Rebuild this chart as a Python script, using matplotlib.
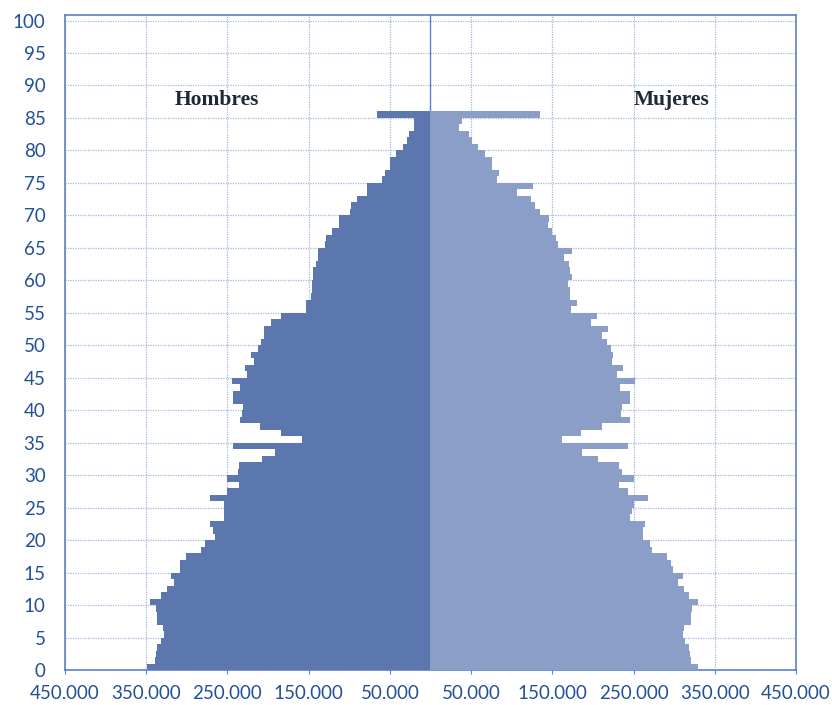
import numpy as np
import matplotlib
matplotlib.use("Agg")
import matplotlib.pyplot as plt
from matplotlib.ticker import FuncFormatter

# ---------- data ----------
ages = list(range(0, 86))

hombres = [
    349300, 338600, 337400, 336600, 331300, 327600, 329300, 336600, 336600, 338300,
    344800, 331700, 323900, 316100, 319000, 308700, 308700, 301400, 282000, 277100,
    264900, 267700, 271000, 254200, 254200, 254600, 271000, 250500, 235800, 250500,
    237000, 235800, 207000, 191000, 243100, 157800, 183700, 210300, 234100, 232500,
    230900, 243100, 243100, 234900, 243900, 225900, 228800, 217700, 220600, 212400,
    209100, 205000, 205000, 196800, 183700, 152900, 152900, 147600, 145500, 145500,
    144800, 144800, 141500, 138600, 138600, 130400, 128300, 120900, 112800, 112800,
    99600, 97500, 90600, 77900, 77900, 59400, 56600, 50400, 50400, 42200,
    34100, 29200, 26000, 19700, 19700, 66000,
]

mujeres = [
    329600, 320700, 319800, 318000, 313600, 310300, 312000, 321000, 321000, 321900,
    329000, 318600, 312400, 305000, 310800, 298900, 295800, 291500, 273100, 270000,
    261100, 261100, 263800, 246000, 248500, 250300, 268100, 243200, 232500, 250300,
    235500, 232500, 205800, 186600, 242700, 162000, 185700, 210700, 245400, 234600,
    235500, 246000, 246000, 233700, 251500, 229200, 236500, 223500, 224200, 222300,
    217300, 211200, 218900, 197700, 205000, 173100, 180400, 172200, 172200, 168900,
    174300, 172200, 171000, 164000, 174300, 156600, 154600, 149700, 144300, 146400,
    134900, 129200, 123800, 107000, 125800, 82000, 84900, 75900, 75900, 67700,
    58200, 50800, 48000, 34800, 39000, 134900,
]

x_ticks = [-450000, -350000, -250000, -150000, -50000, 50000, 150000, 250000, 350000, 450000]
y_ticks = list(range(0, 101, 5))

# ---------- styling ----------
c_male = "#5b77ad"
c_female = "#8a9ec8"
c_axis = "#5b80c9"
c_grid = "#a3b7e0"
c_text = "#23509a"

plt.rcParams["font.family"] = ["Lato", "DejaVu Sans"]

fig = plt.figure(figsize=(8.32, 7.05), dpi=100)
ax = fig.add_axes([0.0781, 0.0496, 0.8786, 0.9296])

y = np.array(ages)
ax.barh(y, -np.array(hombres), height=1.0, align="edge", color=c_male, zorder=3, linewidth=0)
ax.barh(y, np.array(mujeres), height=1.0, align="edge", color=c_female, zorder=3, linewidth=0)

ax.set_xlim(-450000, 450000)
ax.set_ylim(0, 100.9)

ax.set_xticks(x_ticks)
ax.set_yticks(y_ticks)
ax.xaxis.set_major_formatter(FuncFormatter(lambda v, p: f"{abs(int(v)):,}".replace(",", ".")))

ax.grid(True, which="major", color=c_grid, linestyle=(0, (1, 1)), linewidth=0.9, zorder=1)
ax.axvline(0, color=c_axis, linewidth=1.0, zorder=2)

for s in ax.spines.values():
    s.set_color(c_axis)
    s.set_linewidth(1.2)

ax.tick_params(axis="x", colors=c_axis, labelcolor=c_text, labelsize=13.5, length=3, pad=8)
ax.tick_params(axis="y", colors=c_axis, labelcolor=c_text, labelsize=13.5, length=0, pad=14)

ax.text(-263000, 87.8, "Hombres", ha="center", va="center", fontsize=15.5,
        fontweight="bold", family="Liberation Serif", color="#1e2a3a")
ax.text(297000, 87.8, "Mujeres", ha="center", va="center", fontsize=15.5,
        fontweight="bold", family="Liberation Serif", color="#1e2a3a")

fig.savefig("out.png", dpi=100)
